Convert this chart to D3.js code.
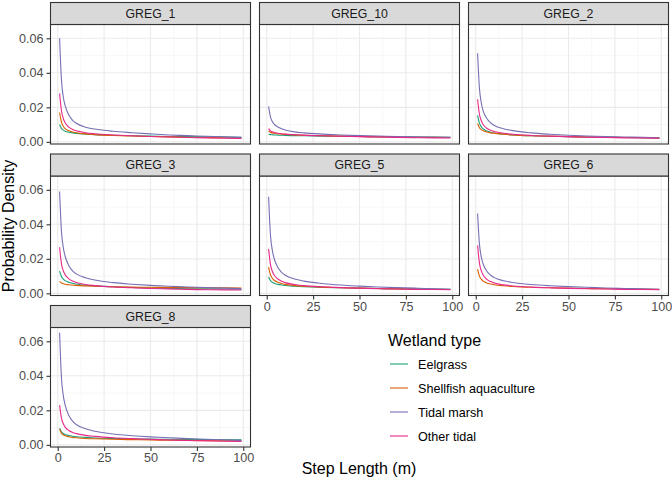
<!DOCTYPE html>
<html><head><meta charset="utf-8">
<script src="https://cdn.jsdelivr.net/npm/d3@7"></script>
<style>body{margin:0;background:#fff}svg{display:block;font-family:"Liberation Sans",Arial,sans-serif}</style>
</head><body><svg id="c" width="672" height="485"></svg>
<script>
const panels = ["GREG_1","GREG_10","GREG_2","GREG_3","GREG_5","GREG_6","GREG_8"];
const wetlandTypes = ["Eelgrass","Shellfish aquaculture","Tidal marsh","Other tidal"];
const typeColors = ["#1B9E77","#D95F02","#7570B3","#E7298A"];
const stepLength = [1,2,3,4,6,8,10,15,20,30,40,50,60,70,80,90,99];
const xTicks = [0,25,50,75,100];
const yTicks = [0,0.02,0.04,0.06];
const yTickLabels = ["0.00","0.02","0.04","0.06"];

// GREG_1
const greg1Eelgrass = [0.010,0.0078,0.0068,0.0062,0.0056,0.0052,0.0049,0.0045,0.0042,0.0038,0.0035,0.0033,0.0031,0.0030,0.0029,0.0028,0.0027];
const greg1Shellfish = [0.017,0.0115,0.009,0.0077,0.0064,0.0057,0.0053,0.0046,0.0042,0.0037,0.0034,0.0031,0.0029,0.0027,0.0025,0.0024,0.0023];
const greg1TidalMarsh = [0.060,0.036,0.026,0.021,0.0155,0.0125,0.0108,0.0085,0.0074,0.0061,0.0053,0.0046,0.0040,0.0036,0.0032,0.0029,0.0026];
const greg1OtherTidal = [0.028,0.018,0.0135,0.011,0.0085,0.0072,0.0064,0.0053,0.0047,0.0040,0.0035,0.0031,0.0028,0.0025,0.0023,0.0021,0.0019];
// GREG_10
const greg10Eelgrass = [0.0044,0.0042,0.0041,0.0040,0.0039,0.0038,0.0037,0.0036,0.0035,0.0033,0.0032,0.0031,0.0030,0.0029,0.0028,0.0028,0.0027];
const greg10Shellfish = [0.0063,0.0056,0.0052,0.0050,0.0047,0.0045,0.0043,0.0040,0.0038,0.0035,0.0033,0.0031,0.0029,0.0028,0.0027,0.0026,0.0025];
const greg10TidalMarsh = [0.0206,0.0145,0.0118,0.0103,0.0086,0.0076,0.0069,0.0058,0.0052,0.0045,0.0040,0.0036,0.0033,0.0031,0.0029,0.0027,0.0026];
const greg10OtherTidal = [0.0077,0.0064,0.0058,0.0054,0.0050,0.0047,0.0045,0.0042,0.0039,0.0035,0.0032,0.0030,0.0028,0.0026,0.0024,0.0023,0.0022];
// GREG_2
const greg2Eelgrass = [0.0154,0.0108,0.0087,0.0075,0.0063,0.0056,0.0051,0.0044,0.0040,0.0035,0.0032,0.0030,0.0028,0.0026,0.0025,0.0024,0.0023];
const greg2Shellfish = [0.0106,0.0082,0.0071,0.0064,0.0057,0.0052,0.0049,0.0044,0.0040,0.0035,0.0032,0.0030,0.0028,0.0026,0.0025,0.0024,0.0023];
const greg2TidalMarsh = [0.0513,0.031,0.0225,0.018,0.0135,0.011,0.0095,0.0076,0.0065,0.0052,0.0044,0.0038,0.0034,0.0031,0.0028,0.0026,0.0024];
const greg2OtherTidal = [0.0247,0.016,0.0122,0.0101,0.0079,0.0067,0.0060,0.0050,0.0044,0.0037,0.0033,0.0030,0.0027,0.0025,0.0023,0.0022,0.0021];
// GREG_3
const greg3Eelgrass = [0.0129,0.0098,0.0083,0.0074,0.0064,0.0058,0.0054,0.0047,0.0043,0.0038,0.0034,0.0031,0.0029,0.0027,0.0026,0.0025,0.0024];
const greg3Shellfish = [0.0069,0.0060,0.0056,0.0053,0.0050,0.0048,0.0046,0.0043,0.0041,0.0038,0.0036,0.0035,0.0034,0.0033,0.0032,0.0032,0.0031];
const greg3TidalMarsh = [0.059,0.036,0.0265,0.0215,0.016,0.013,0.0113,0.009,0.0077,0.0062,0.0053,0.0046,0.0041,0.0037,0.0033,0.0030,0.0027];
const greg3OtherTidal = [0.0267,0.0172,0.0131,0.0108,0.0084,0.0071,0.0063,0.0051,0.0045,0.0037,0.0032,0.0028,0.0026,0.0023,0.0021,0.0020,0.0019];
// GREG_5
const greg5Eelgrass = [0.0096,0.0074,0.0064,0.0058,0.0052,0.0048,0.0045,0.0041,0.0038,0.0034,0.0032,0.0030,0.0028,0.0027,0.0026,0.0025,0.0024];
const greg5Shellfish = [0.0152,0.0108,0.0088,0.0076,0.0064,0.0057,0.0052,0.0045,0.0041,0.0036,0.0032,0.0030,0.0028,0.0026,0.0024,0.0023,0.0022];
const greg5TidalMarsh = [0.056,0.034,0.025,0.0202,0.015,0.0122,0.0105,0.0083,0.0071,0.0057,0.0048,0.0042,0.0037,0.0033,0.0030,0.0027,0.0024];
const greg5OtherTidal = [0.0258,0.0168,0.0128,0.0106,0.0083,0.0070,0.0062,0.0051,0.0045,0.0038,0.0033,0.0030,0.0027,0.0025,0.0023,0.0022,0.0021];
// GREG_6 (no eelgrass)
const greg6Eelgrass = null;
const greg6Shellfish = [0.0141,0.0100,0.0082,0.0071,0.0060,0.0054,0.0050,0.0044,0.0040,0.0035,0.0032,0.0030,0.0028,0.0027,0.0026,0.0025,0.0024];
const greg6TidalMarsh = [0.0463,0.0285,0.021,0.017,0.0128,0.0105,0.0091,0.0073,0.0063,0.0051,0.0044,0.0039,0.0035,0.0031,0.0028,0.0026,0.0024];
const greg6OtherTidal = [0.0278,0.0175,0.0130,0.0106,0.0081,0.0068,0.0060,0.0049,0.0043,0.0036,0.0032,0.0029,0.0027,0.0025,0.0023,0.0022,0.0021];
// GREG_8
const greg8Eelgrass = [0.0097,0.0076,0.0066,0.0060,0.0054,0.0050,0.0047,0.0043,0.0040,0.0037,0.0035,0.0033,0.0032,0.0031,0.0030,0.0029,0.0029];
const greg8Shellfish = [0.0091,0.0068,0.0058,0.0053,0.0047,0.0043,0.0041,0.0037,0.0035,0.0032,0.0030,0.0028,0.0027,0.0026,0.0025,0.0024,0.0023];
const greg8TidalMarsh = [0.0649,0.039,0.0285,0.023,0.017,0.0137,0.0118,0.0093,0.0079,0.0063,0.0053,0.0046,0.0041,0.0036,0.0032,0.0029,0.0026];
const greg8OtherTidal = [0.023,0.0155,0.0122,0.0103,0.0083,0.0072,0.0065,0.0055,0.0049,0.0041,0.0036,0.0032,0.0028,0.0025,0.0023,0.0021,0.0019];

const panelSeries = [
  [greg1Eelgrass,greg1Shellfish,greg1TidalMarsh,greg1OtherTidal],
  [greg10Eelgrass,greg10Shellfish,greg10TidalMarsh,greg10OtherTidal],
  [greg2Eelgrass,greg2Shellfish,greg2TidalMarsh,greg2OtherTidal],
  [greg3Eelgrass,greg3Shellfish,greg3TidalMarsh,greg3OtherTidal],
  [greg5Eelgrass,greg5Shellfish,greg5TidalMarsh,greg5OtherTidal],
  [greg6Eelgrass,greg6Shellfish,greg6TidalMarsh,greg6OtherTidal],
  [greg8Eelgrass,greg8Shellfish,greg8TidalMarsh,greg8OtherTidal]
];

const svg = d3.select("#c");
const colLeft = [50.5, 259.5, 468.5];
const panelW = 200, panelH = 119.5, stripH = 22;
const rowTop = [24.5, 176, 327.5];
const tickCol = "#333333", textCol = "#4D4D4D";
const small = 12.6, big = 16;

panels.forEach((name, i) => {
  const col = i % 3, row = Math.floor(i / 3);
  const left = colLeft[col], top = rowTop[row];
  const x = d3.scaleLinear().domain([-3.9, 103.9]).range([left, left + panelW]);
  const y = d3.scaleLinear().domain([-0.00125, 0.068]).range([top + panelH, top]);
  const g = svg.append("g");
  g.append("rect").attr("x", left).attr("y", top).attr("width", panelW).attr("height", panelH).attr("fill", "#fff");
  // minor grid
  [12.5,37.5,62.5,87.5].forEach(v => g.append("line").attr("x1", x(v)).attr("x2", x(v)).attr("y1", top).attr("y2", top + panelH).attr("stroke", "#F2F2F2").attr("stroke-width", 0.6));
  [0.01,0.03,0.05].forEach(v => g.append("line").attr("y1", y(v)).attr("y2", y(v)).attr("x1", left).attr("x2", left + panelW).attr("stroke", "#F2F2F2").attr("stroke-width", 0.6));
  xTicks.forEach(v => g.append("line").attr("x1", x(v)).attr("x2", x(v)).attr("y1", top).attr("y2", top + panelH).attr("stroke", "#EBEBEB").attr("stroke-width", 1.1));
  yTicks.forEach(v => g.append("line").attr("y1", y(v)).attr("y2", y(v)).attr("x1", left).attr("x2", left + panelW).attr("stroke", "#EBEBEB").attr("stroke-width", 1.1));
  // lines
  const line = d3.line().x((d, k) => x(stepLength[k])).y(d => y(d)).curve(d3.curveMonotoneX);
  panelSeries[i].forEach((vals, s) => {
    if (!vals) return;
    g.append("path").attr("d", line(vals)).attr("fill", "none").attr("stroke", typeColors[s]).attr("stroke-width", 1.1);
  });
  // border
  g.append("rect").attr("x", left).attr("y", top).attr("width", panelW).attr("height", panelH).attr("fill", "none").attr("stroke", tickCol).attr("stroke-width", 1.1);
  // strip
  g.append("rect").attr("x", left).attr("y", top - stripH).attr("width", panelW).attr("height", stripH).attr("fill", "#D9D9D9").attr("stroke", tickCol).attr("stroke-width", 1.1);
  g.append("text").attr("x", left + panelW / 2).attr("y", top - stripH / 2).attr("dy", "0.36em").attr("text-anchor", "middle").attr("font-size", 12.3).attr("fill", "#1A1A1A").text(name);
  // y axis on first column
  if (col === 0) {
    const ax = g.append("g").attr("transform", `translate(${left},0)`)
      .call(d3.axisLeft(y).tickValues(yTicks).tickFormat((d, k) => yTickLabels[k]).tickSize(4).tickPadding(3));
    ax.select(".domain").remove();
    ax.selectAll("line").attr("stroke", tickCol).attr("stroke-width", 1.1);
    ax.selectAll("text").attr("fill", textCol).attr("font-size", small).attr("font-family", "Liberation Sans, Arial, sans-serif");
  }
  // x axis on bottom panel of each column
  if (i >= 4) {
    const ax = g.append("g").attr("transform", `translate(0,${top + panelH})`)
      .call(d3.axisBottom(x).tickValues(xTicks).tickFormat(d3.format("d")).tickSize(4).tickPadding(2.5));
    ax.select(".domain").remove();
    ax.selectAll("line").attr("stroke", tickCol).attr("stroke-width", 1.1);
    ax.selectAll("text").attr("fill", textCol).attr("font-size", small).attr("font-family", "Liberation Sans, Arial, sans-serif");
  }
});

// axis titles
svg.append("text").attr("x", 359).attr("y", 474).attr("text-anchor", "middle").attr("font-size", big).attr("fill", "#000").text("Step Length (m)");
svg.append("text").attr("transform", "translate(14,226) rotate(-90)").attr("text-anchor", "middle").attr("font-size", big).attr("fill", "#000").text("Probability Density");

// legend
const lg = svg.append("g");
lg.append("text").attr("x", 388).attr("y", 346).attr("font-size", big).attr("fill", "#000").text("Wetland type");
const legendY = d3.scalePoint().domain(wetlandTypes).range([364, 436]);
wetlandTypes.forEach((t, s) => {
  lg.append("line").attr("x1", 390).attr("x2", 408).attr("y1", legendY(t)).attr("y2", legendY(t)).attr("stroke", typeColors[s]).attr("stroke-width", 1.1);
  lg.append("text").attr("x", 418).attr("y", legendY(t)).attr("dy", "0.36em").attr("font-size", small).attr("fill", "#000").text(t);
});
</script></body></html>
